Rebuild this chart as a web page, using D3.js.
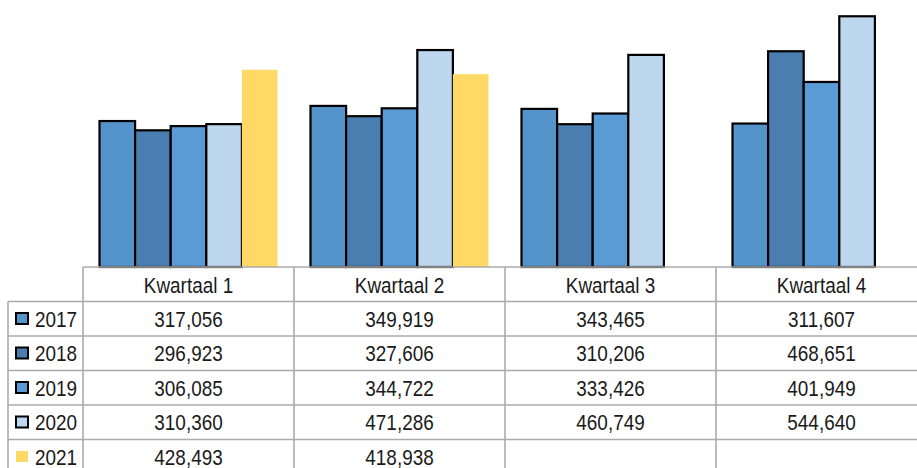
<!DOCTYPE html>
<html>
<head lang="nl">
    <meta charset="UTF-8">
    <script type="text/javascript" src="https://d3js.org/d3.v7.min.js"></script>
    <style>
        body { margin: 0; background: #fff; }
        text { font-family: "Liberation Sans", Arial, sans-serif; fill: #1a1a1a; }
    </style>
</head>
<body>
    <svg id="chart" width="917" height="468"></svg>
    <script>
        // data
        var quarters = ["Kwartaal 1", "Kwartaal 2", "Kwartaal 3", "Kwartaal 4"];
        var years = ["2017", "2018", "2019", "2020", "2021"];
        var v2017 = [317056, 349919, 343465, 311607];
        var v2018 = [296923, 327606, 310206, 468651];
        var v2019 = [306085, 344722, 333426, 401949];
        var v2020 = [310360, 471286, 460749, 544640];
        var v2021 = [428493, 418938, null, null];
        var series = [v2017, v2018, v2019, v2020, v2021];
        var colors = ["#5593cb", "#4a7eb0", "#5b9bd5", "#bdd7ee", "#ffd966"];
        var outlined = [true, true, true, true, false];

        var svg = d3.select("#chart");
        var colW = 211, tableLeft = 83, legendLeft = 8;
        var baseY = 267, rowH = 34.5;

        var xQuarter = d3.scaleBand().domain(quarters).range([tableLeft, tableLeft + colW * quarters.length]);
        var xYear = d3.scaleBand().domain(years).range([16.5, colW - 16.5]);
        var y = d3.scaleLinear().domain([0, 580000]).range([baseY, 0]);
        var fmt = d3.format(",");

        // bars
        var bars = [];
        series.forEach(function(vals, si){
            vals.forEach(function(v, qi){
                if (v != null) bars.push({year: years[si], q: quarters[qi], v: v, si: si});
            });
        });
        svg.append("g").selectAll("rect")
            .data(bars)
            .enter()
            .append("rect")
                .attr("x", function(d){ return xQuarter(d.q) + xYear(d.year); })
                .attr("y", function(d){ return y(d.v); })
                .attr("width", xYear.bandwidth())
                .attr("height", function(d){ return baseY - y(d.v); })
                .attr("fill", function(d){ return colors[d.si]; })
                .attr("stroke", function(d){ return outlined[d.si] ? "#000" : "none"; })
                .attr("stroke-width", 2.2);

        // table grid
        var grid = svg.append("g").attr("stroke", "#ababab").attr("stroke-width", 1.6);
        var nRows = years.length;
        var tableBottom = baseY + rowH * (nRows + 1);
        grid.append("line").attr("x1", tableLeft).attr("x2", 917).attr("y1", baseY).attr("y2", baseY);
        d3.range(1, nRows + 1).forEach(function(r){
            grid.append("line").attr("x1", legendLeft).attr("x2", 917)
                .attr("y1", baseY + rowH * r).attr("y2", baseY + rowH * r);
        });
        grid.append("line").attr("x1", legendLeft).attr("x2", legendLeft)
            .attr("y1", baseY + rowH).attr("y2", tableBottom);
        quarters.forEach(function(q){
            grid.append("line").attr("x1", xQuarter(q)).attr("x2", xQuarter(q))
                .attr("y1", baseY).attr("y2", tableBottom);
        });

        function label(g, x, yb, txt, anchor){
            g.append("text")
                .attr("transform", "translate(" + x + "," + yb + ") scale(0.86,1)")
                .attr("text-anchor", anchor)
                .attr("font-size", 22)
                .text(txt);
        }

        var txt = svg.append("g");
        // header
        quarters.forEach(function(q){
            label(txt, xQuarter(q) + colW / 2, baseY + 25.5, q, "middle");
        });
        // rows
        years.forEach(function(yr, si){
            var rowTop = baseY + rowH * (si + 1);
            svg.append("rect")
                .attr("x", 16).attr("y", rowTop + 11.5)
                .attr("width", 12).attr("height", 11)
                .attr("fill", colors[si])
                .attr("stroke", outlined[si] ? "#000" : "none")
                .attr("stroke-width", 2);
            label(txt, 35, rowTop + 25, yr, "start");
            series[si].forEach(function(v, qi){
                if (v != null) label(txt, xQuarter(quarters[qi]) + colW / 2, rowTop + 25, fmt(v), "middle");
            });
        });
    </script>
</body>
</html>
